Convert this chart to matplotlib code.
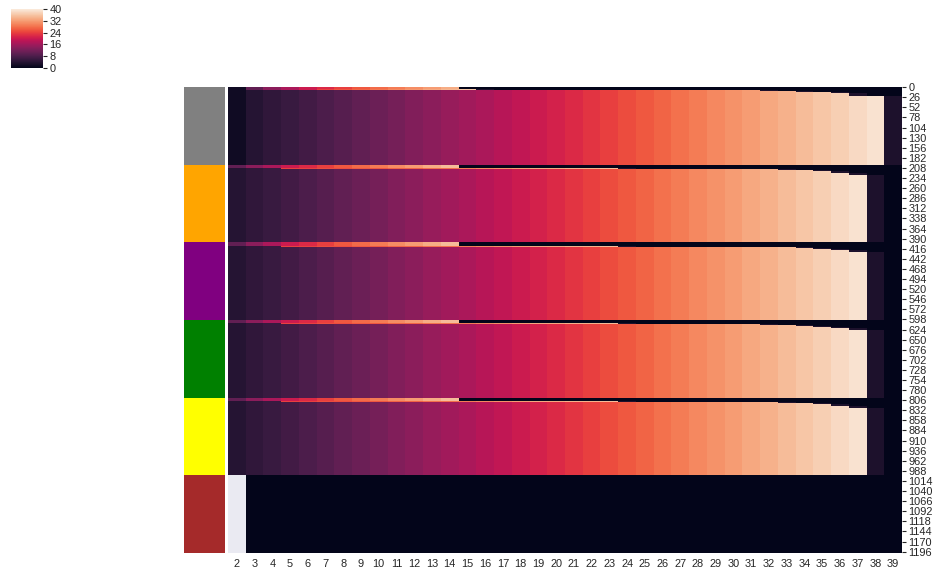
import numpy as np
import matplotlib
matplotlib.use("Agg")
import matplotlib.pyplot as plt
from matplotlib.colors import ListedColormap
import seaborn as sns

# column labels of the heatmap
col_labels = [2, 3, 4, 5, 6, 7, 8, 9, 10, 11, 12, 13, 14, 15, 16, 17, 18, 19, 20,
              21, 22, 23, 24, 25, 26, 27, 28, 29, 30, 31, 32, 33, 34, 35, 36, 37, 38, 39]

# row groups (row_colors) and rows per group
group_colors = ["gray", "orange", "purple", "green", "yellow", "brown"]
group_size = 200

# value left after the last rising cell of a row
tail_value = 3

# body rows, one value per column (labels 2..39)
body_gray = [1.6, 4, 5, 6, 7, 8, 9, 10, 11, 12, 13, 14, 15, 16, 17, 18, 19, 20, 21,
             22, 23, 24, 25, 26, 27, 28, 29, 30, 31, 32, 33, 34, 35, 36, 37, 38, 39, 3]
body_rest = [4, 5, 6, 7, 8, 9, 10, 11, 12, 13, 14, 15, 16, 17, 18, 19, 20, 21, 22,
             23, 24, 25, 26, 27, 28, 29, 30, 31, 32, 33, 34, 35, 36, 37, 38, 39, 3, 0]

# fast rising strip at the top of each group (starting at label 2)
strip_gray_a = [1.6, 10, 14, 17, 20, 22, 24, 26, 27.5, 29, 30.5, 32, 33.5]
strip_gray_b = [1.6, 10, 14, 17, 20, 24, 25.5, 27, 28.5, 30, 31.5, 33, 34.5, 36, 3]
strip_rest_a = [10, 14, 17, 20, 22, 24, 26, 27.5, 29, 30.5, 32, 33.5, 35]
strip_rest_b = [4, 5, 6, 24, 24, 25, 25, 26, 26, 27, 27, 28, 28, 29, 30, 31, 32,
                33, 33, 34, 34, 35, 3]
strip_rows_gray = [4, 5]
strip_rows_rest = [9, 2]

# staircase under the strip: (rows, last rising column label)
stair_gray = [(2, 31), (2, 33), (2, 35), (7, 36)]
stair_rest = [(1, 31), (1, 32), (2, 33), (2, 34), (4, 35), (5, 36)]

cbar_ticks = [0, 8, 16, 24, 32, 40]


def pad(vals):
    row = np.zeros(len(col_labels))
    row[:len(vals)] = vals
    return row


def build_group(body, strips, strip_rows, stairs):
    rows = []
    for s, n in zip(strips, strip_rows):
        rows += [pad(s)] * n
    for n, last in stairs:
        k = col_labels.index(last) + 1
        rows += [pad(list(body[:k]) + [tail_value])] * n
    rows += [np.array(body, dtype=float)] * (group_size - len(rows))
    return rows


rows = build_group(body_gray, [strip_gray_a, strip_gray_b], strip_rows_gray, stair_gray)
for g in group_colors[1:-1]:
    rows += build_group(body_rest, [strip_rest_a, strip_rest_b], strip_rows_rest, stair_rest)
last_row = np.zeros(len(col_labels))
last_row[0] = np.nan  # empty cell shows the axes background
rows += [last_row] * group_size
data = np.array(rows)
n_rows = data.shape[0]

plt.rcParams['font.family'] = ['Liberation Sans', 'DejaVu Sans']

fig = plt.figure(figsize=(9.4, 5.77), dpi=100)
ax = fig.add_axes([228 / 940, 1 - 553 / 577, 674 / 940, 466 / 577])
ax_rc = fig.add_axes([184 / 940, 1 - 553 / 577, 41 / 940, 466 / 577])
cax = fig.add_axes([11 / 940, 1 - 68 / 577, 32 / 940, 59 / 577])

ax.set_facecolor('#eaeaf2')
sns.heatmap(data, ax=ax, cmap='rocket', vmin=0, vmax=40, cbar_ax=cax,
            cbar_kws={'ticks': cbar_ticks}, xticklabels=col_labels, yticklabels=False)

# y ticks on the right every 26 rows
ytick_rows = list(range(0, n_rows, 26))
ax.yaxis.tick_right()
ax.set_yticks(np.array(ytick_rows) + 0.5)
ax.set_yticklabels([str(r) for r in ytick_rows], rotation=0)
ax.tick_params(axis='y', length=3, width=0.8, pad=1.5, labelsize=7.9,
               colors='0.15', right=True, left=False)
ax.tick_params(axis='x', length=0, pad=4.5, labelsize=7.9, colors='0.15', rotation=0)

# row colours strip
group_idx = np.repeat(np.arange(len(group_colors)), group_size)[:, None]
ax_rc.imshow(group_idx, cmap=ListedColormap(group_colors), aspect='auto',
             interpolation='nearest')
ax_rc.set_xticks([])
ax_rc.set_yticks([])
for sp in ax_rc.spines.values():
    sp.set_visible(False)

cax.tick_params(length=3, width=0.8, pad=1.5, labelsize=7.9, colors='0.15')
cax.yaxis.set_ticks_position('right')

fig.savefig('out.png', dpi=100)
